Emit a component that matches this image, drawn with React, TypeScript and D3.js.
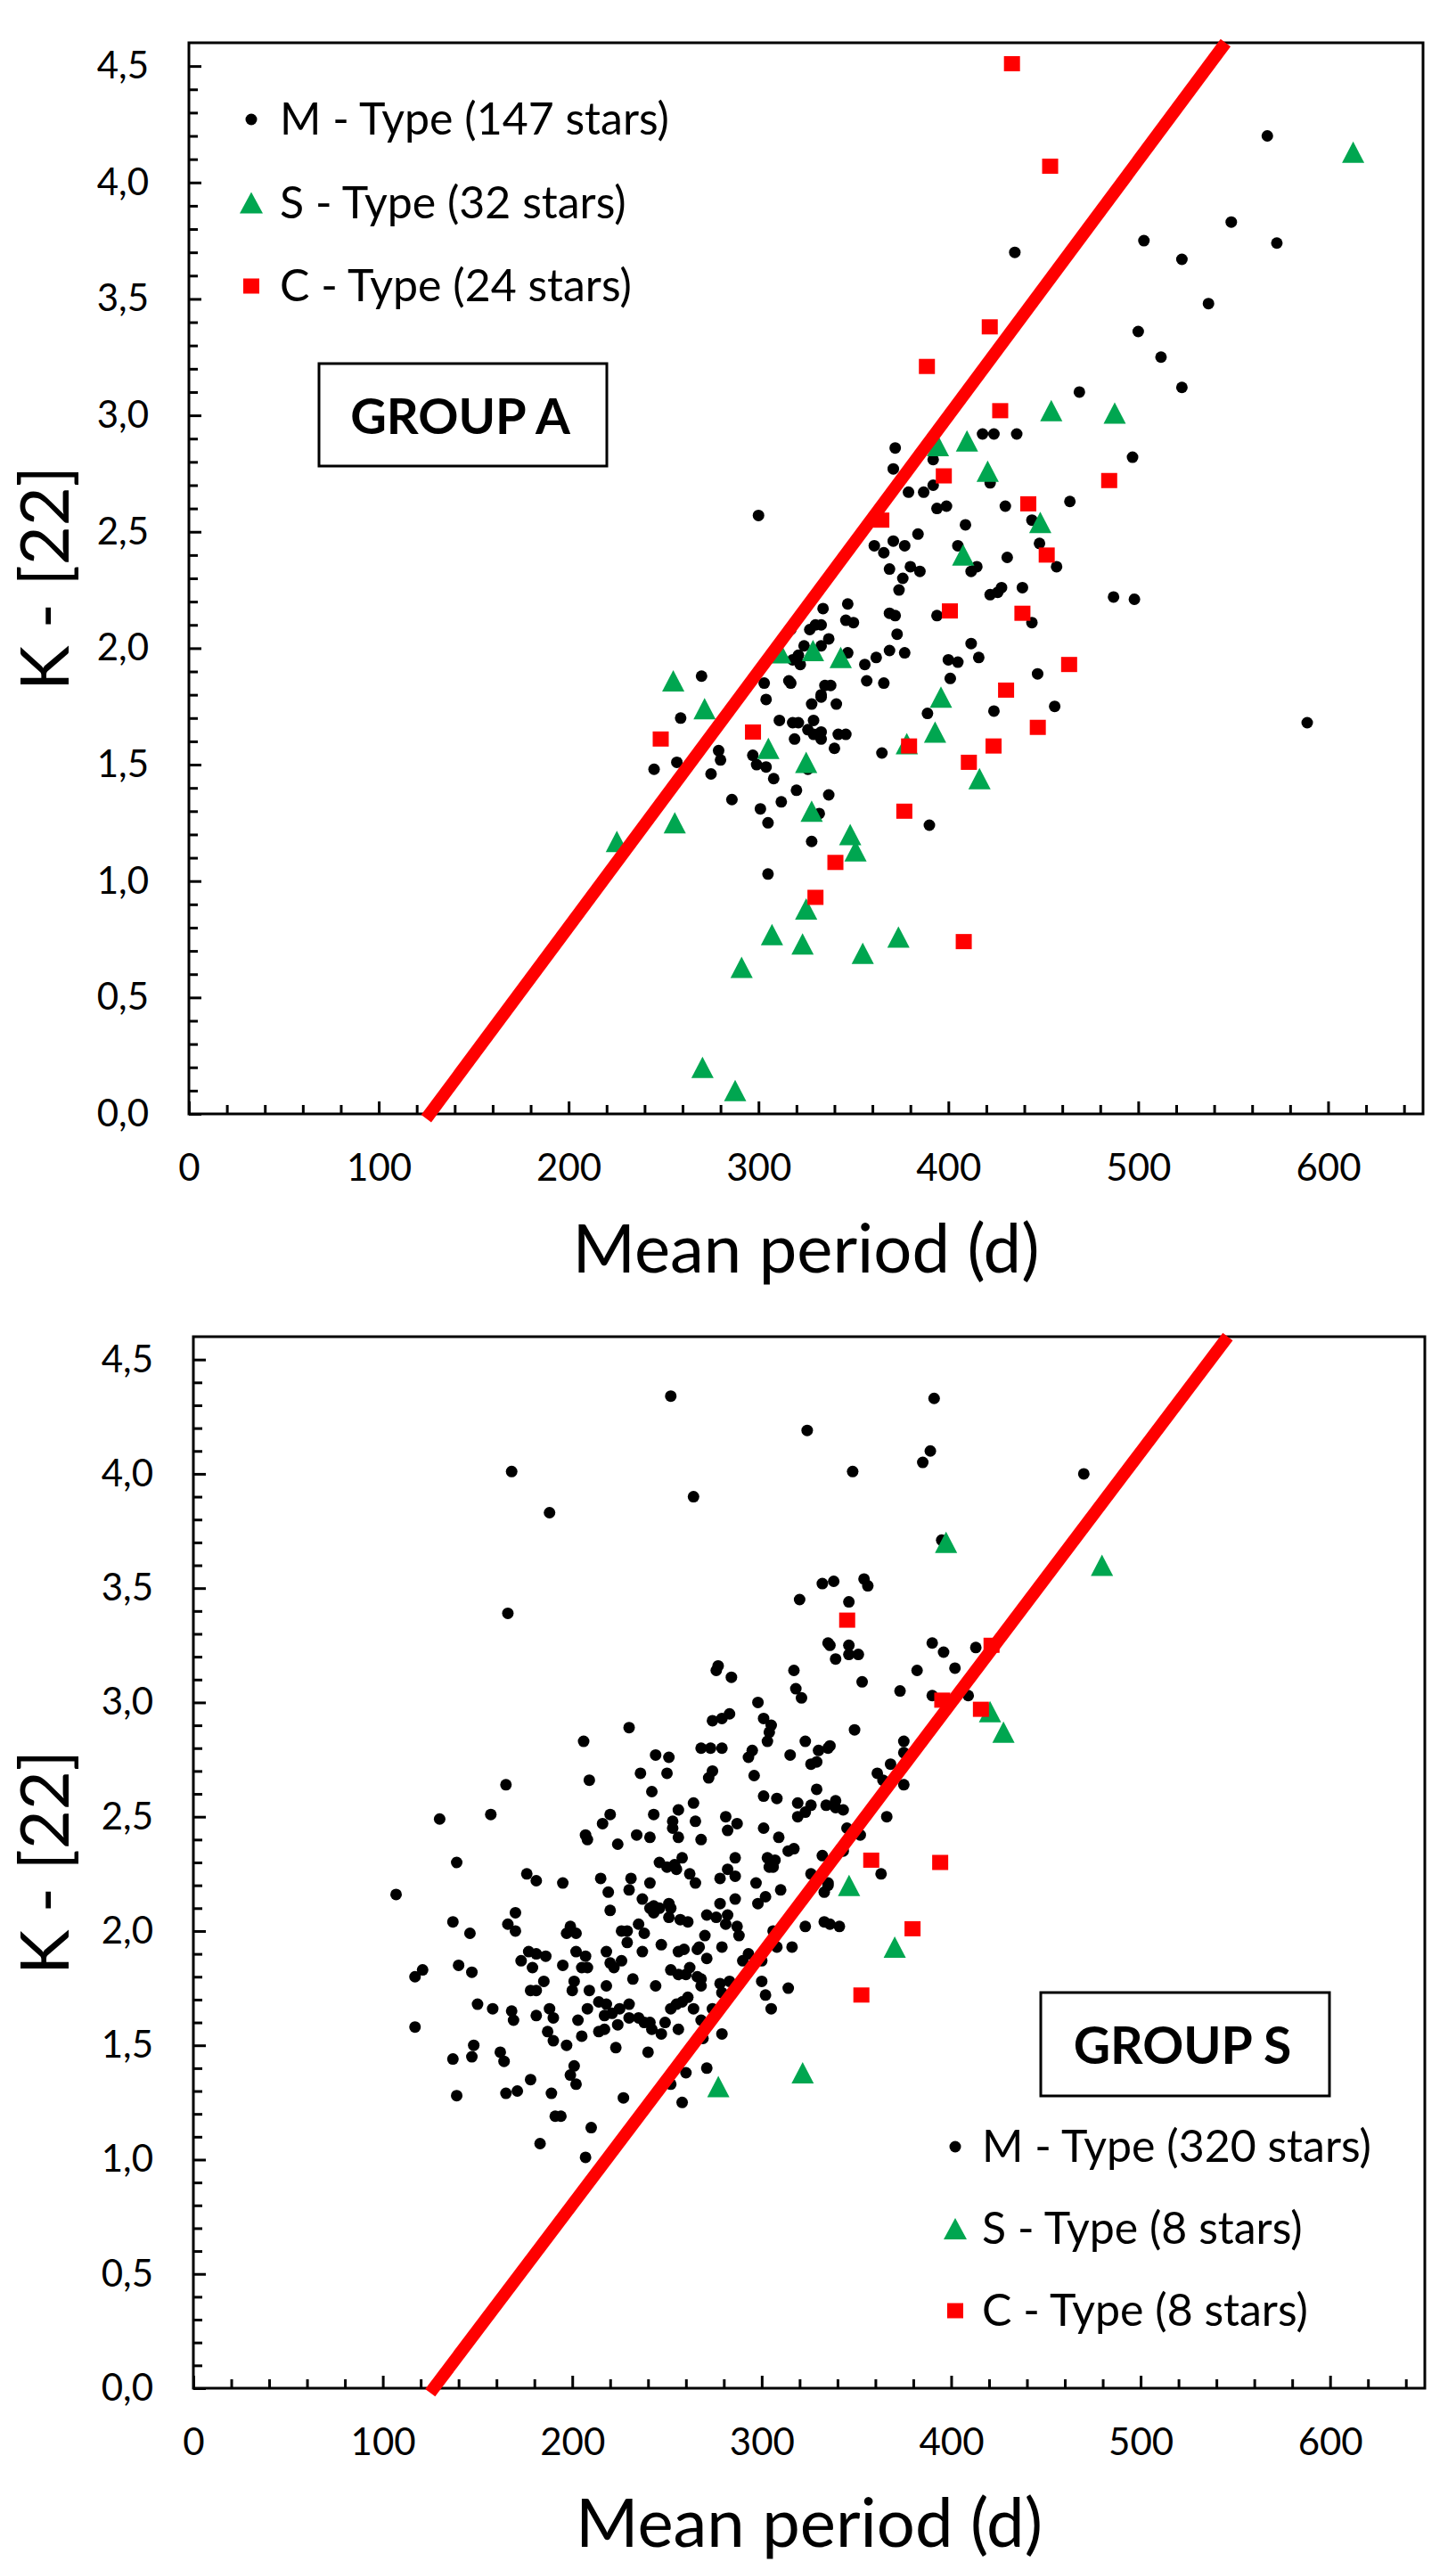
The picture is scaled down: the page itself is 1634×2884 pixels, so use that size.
import React, { useRef, useEffect } from 'react';
import * as d3 from 'd3';

type Pt = [number, number]; // [mean period (d), K - [22]]

const W = 1634;
const H = 2884;
const FONT = "Lato, 'Open Sans', sans-serif";

const xTickValues = [0, 100, 200, 300, 400, 500, 600];
const yTickValues = [0, 0.5, 1, 1.5, 2, 2.5, 3, 3.5, 4, 4.5];
const xTitle = 'Mean period (d)';
const yTitle = 'K - [22]';

// separation line, K - [22] = 0 at ~125 d, reaches the top of the frame at ~546 d
const limitLine: Pt[] = [[125, -0.02], [546, 4.6]];

// ---- GROUP A ----
const groupAM: Pt[] = [
  [300, 2.57], [372, 2.86], [371, 2.77], [392, 2.81], [379, 2.67], [387, 2.67], [392, 2.7], [394, 2.6],
  [399, 2.61], [409, 2.53], [384, 2.49], [361, 2.44], [366, 2.41], [371, 2.46], [377, 2.44], [405, 2.44],
  [369, 2.34], [380, 2.35], [385, 2.33], [376, 2.3], [374, 2.25], [412, 2.33], [415, 2.35], [422, 2.23],
  [426, 2.24], [369, 2.15], [372, 2.14], [394, 2.14], [373, 2.06], [369, 1.99], [377, 1.98], [362, 1.96],
  [356, 1.93], [357, 1.86], [366, 1.85], [347, 2.19], [346, 2.12], [350, 2.11], [334, 2.17], [330, 2.1],
  [333, 2.1], [327, 2.08], [337, 2.04], [324, 2.01], [333, 2.01], [317, 2.08], [321, 1.97], [318, 1.95],
  [322, 1.93], [347, 1.98], [303, 1.85], [316, 1.86], [317, 1.85], [304, 1.78], [335, 1.84], [338, 1.84],
  [333, 1.8], [333, 1.79], [328, 1.76], [341, 1.76], [311, 1.69], [318, 1.68], [321, 1.68], [329, 1.69],
  [326, 1.65], [331, 1.63], [333, 1.64], [329, 1.63], [319, 1.61], [333, 1.61], [342, 1.63], [346, 1.63],
  [340, 1.57], [279, 1.56], [280, 1.52], [297, 1.54], [299, 1.5], [304, 1.49], [308, 1.44], [326, 1.48],
  [275, 1.46], [286, 1.35], [301, 1.31], [305, 1.25], [312, 1.34], [320, 1.39], [337, 1.37], [332, 1.29],
  [328, 1.17], [305, 1.03], [365, 1.55], [390, 1.24], [389, 1.72], [401, 1.87], [400, 1.95], [405, 1.94],
  [412, 2.02], [416, 1.96], [424, 1.73], [270, 1.88], [259, 1.7], [257, 1.51], [245, 1.48], [418, 2.92],
  [424, 2.92], [422, 2.71], [568, 4.2], [435, 3.7], [549, 3.83], [573, 3.74], [503, 3.75], [523, 3.67],
  [537, 3.48], [500, 3.36], [512, 3.25], [523, 3.12], [469, 3.1], [436, 2.92], [497, 2.82], [430, 2.61],
  [464, 2.63], [444, 2.55], [448, 2.45], [431, 2.39], [457, 2.35], [428, 2.26], [439, 2.26], [487, 2.22],
  [498, 2.21], [444, 2.11], [447, 1.89], [456, 1.75], [589, 1.68]
];
const groupAS: Pt[] = [
  [394.5, 2.87], [409.8, 2.89], [420.7, 2.76], [407.8, 2.4], [255.1, 1.86], [271.6, 1.74], [311.5, 1.98],
  [328.7, 1.99], [343.3, 1.96], [305.2, 1.57], [325.1, 1.51], [396.1, 1.79], [393, 1.64], [378.1, 1.59],
  [416.4, 1.44], [255.9, 1.25], [225.4, 1.17], [328, 1.3], [348.3, 1.2], [351.1, 1.13], [325.1, 0.88],
  [307.1, 0.77], [323.2, 0.73], [291.1, 0.63], [373.7, 0.76], [354.9, 0.69], [270.5, 0.2], [287.7, 0.1],
  [613.2, 4.13], [454.2, 3.02], [487.6, 3.01], [448.4, 2.54]
];
const groupAC: Pt[] = [
  [388.7, 3.21], [397.6, 2.74], [364.7, 2.55], [400.8, 2.16], [248.5, 1.61], [297.1, 1.64], [379.3, 1.58],
  [376.8, 1.3], [340.5, 1.08], [330, 0.93], [408.1, 0.74], [433.5, 4.51], [453.6, 4.07], [421.8, 3.38],
  [427.3, 3.02], [484.7, 2.72], [442.1, 2.62], [451.8, 2.4], [439, 2.15], [463.6, 1.93], [430.4, 1.82],
  [447.1, 1.66], [423.8, 1.58], [410.8, 1.51]
];
const groupALegend = ['M - Type (147 stars)', 'S - Type (32 stars)', 'C - Type (24 stars)'];

// ---- GROUP S ----
const groupSM: Pt[] = [
  [252, 4.34], [324, 4.19], [168, 4.01], [188, 3.83], [264, 3.9], [166, 3.39], [332, 3.52], [320, 3.45],
  [335, 3.26], [277, 3.16], [276, 3.14], [284, 3.11], [317, 3.14], [318, 3.06], [321, 3.02], [298, 3.0],
  [301, 2.93], [305, 2.9], [304, 2.87], [303, 2.83], [274, 2.92], [279, 2.93], [283, 2.95], [230, 2.89],
  [206, 2.83], [268, 2.8], [273, 2.8], [279, 2.8], [295, 2.79], [293, 2.76], [323, 2.83], [315, 2.77],
  [330, 2.79], [335, 2.8], [326, 2.73], [329, 2.74], [244, 2.77], [251, 2.76], [236, 2.69], [250, 2.69],
  [274, 2.7], [272, 2.67], [296, 2.68], [209, 2.66], [165, 2.64], [329, 2.62], [242, 2.61], [301, 2.59],
  [308, 2.58], [319, 2.56], [326, 2.55], [323, 2.52], [319, 2.5], [334, 2.55], [256, 2.53], [264, 2.56],
  [243, 2.51], [281, 2.5], [287, 2.47], [282, 2.44], [157, 2.51], [130, 2.49], [220, 2.51], [216, 2.47],
  [253, 2.48], [253, 2.45], [265, 2.48], [256, 2.41], [268, 2.4], [301, 2.45], [309, 2.41], [207, 2.42],
  [208, 2.4], [234, 2.42], [241, 2.41], [224, 2.38], [314, 2.35], [317, 2.36], [303, 2.32], [307, 2.31],
  [304, 2.28], [306, 2.28], [286, 2.32], [332, 2.33], [258, 2.32], [246, 2.3], [250, 2.28], [254, 2.29],
  [255, 2.27], [139, 2.3], [282, 2.27], [278, 2.23], [286, 2.24], [262, 2.25], [265, 2.21], [326, 2.25],
  [176, 2.25], [181, 2.22], [195, 2.21], [215, 2.23], [231, 2.23], [230, 2.18], [241, 2.21], [107, 2.16],
  [297, 2.21], [310, 2.18], [335, 2.21], [333, 2.17], [219, 2.17], [237, 2.14], [241, 2.1], [243, 2.08],
  [246, 2.1], [251, 2.12], [252, 2.1], [243, 2.11], [251, 2.06], [286, 2.14], [278, 2.12], [298, 2.12],
  [302, 2.15], [220, 2.09], [170, 2.08], [137, 2.04], [146, 1.99], [166, 2.03], [170, 2.0], [271, 2.07],
  [276, 2.06], [282, 2.07], [281, 2.03], [257, 2.05], [261, 2.04], [287, 2.02], [288, 1.98], [270, 1.98],
  [267, 1.93], [266, 1.92], [199, 2.02], [197, 1.99], [202, 1.99], [226, 2.0], [229, 2.0], [229, 1.95],
  [235, 2.03], [238, 1.99], [323, 2.02], [333, 2.04], [306, 2.0], [177, 1.91], [181, 1.9], [186, 1.89],
  [173, 1.87], [179, 1.84], [202, 1.91], [207, 1.89], [208, 1.84], [205, 1.84], [218, 1.91], [220, 1.86],
  [222, 1.84], [226, 1.87], [237, 1.91], [247, 1.94], [256, 1.91], [259, 1.92], [271, 1.88], [279, 1.93],
  [308, 1.93], [316, 1.93], [293, 1.9], [290, 1.87], [300, 1.87], [117, 1.8], [121, 1.83], [140, 1.85],
  [147, 1.82], [195, 1.85], [252, 1.83], [256, 1.81], [260, 1.81], [262, 1.84], [266, 1.8], [268, 1.76],
  [268, 1.79], [232, 1.79], [185, 1.78], [244, 1.76], [278, 1.77], [283, 1.78], [279, 1.73], [300, 1.78],
  [302, 1.72], [305, 1.66], [314, 1.75], [218, 1.76], [201, 1.78], [200, 1.74], [178, 1.74], [181, 1.74],
  [209, 1.74], [150, 1.68], [158, 1.66], [168, 1.65], [169, 1.61], [181, 1.63], [188, 1.66], [190, 1.62],
  [208, 1.66], [214, 1.69], [218, 1.68], [221, 1.64], [217, 1.63], [225, 1.66], [230, 1.68], [261, 1.71],
  [258, 1.69], [255, 1.68], [252, 1.66], [264, 1.66], [274, 1.66], [230, 1.62], [235, 1.62], [238, 1.6],
  [241, 1.6], [242, 1.57], [249, 1.6], [203, 1.61], [268, 1.61], [117, 1.58], [187, 1.56], [214, 1.56],
  [217, 1.57], [205, 1.54], [224, 1.59], [247, 1.55], [256, 1.57], [190, 1.52], [197, 1.5], [223, 1.49],
  [240, 1.47], [148, 1.5], [147, 1.45], [137, 1.44], [162, 1.47], [164, 1.43], [269, 1.53], [279, 1.55],
  [201, 1.41], [199, 1.37], [202, 1.33], [178, 1.35], [260, 1.38], [271, 1.4], [139, 1.28], [165, 1.29],
  [171, 1.3], [189, 1.29], [252, 1.33], [227, 1.27], [258, 1.25], [191, 1.19], [194, 1.19], [210, 1.14],
  [183, 1.07], [207, 1.01],
  [391, 4.33], [348, 4.01], [389, 4.1], [385, 4.05], [470, 4.0], [395, 3.71], [338, 3.53], [354, 3.54],
  [356, 3.51], [346, 3.44], [336, 3.25], [346, 3.25], [339, 3.19], [346, 3.21], [351, 3.21], [353, 3.09],
  [390, 3.26], [396, 3.22], [413, 3.24], [382, 3.14], [402, 3.15], [373, 3.05], [390, 3.03], [409, 3.03],
  [349, 2.88], [336, 2.81], [375, 2.83], [375, 2.78], [368, 2.73], [361, 2.69], [364, 2.66], [375, 2.64],
  [339, 2.57], [339, 2.54], [343, 2.53], [366, 2.5], [345, 2.45], [352, 2.42], [349, 2.43], [343, 2.35],
  [363, 2.25], [335, 2.2], [336, 2.03], [341, 2.02]
];
const groupSS: Pt[] = [
  [397.3, 3.7], [479.6, 3.6], [420.5, 2.96], [427.6, 2.87], [346.1, 2.2], [370.2, 1.93], [277.1, 1.32], [321.6, 1.38]
];
const groupSC: Pt[] = [
  [345.1, 3.36], [421.3, 3.25], [395.3, 3.01], [415.7, 2.97], [357.8, 2.31], [394.2, 2.3], [379.6, 2.01], [352.6, 1.72]
];
const groupSLegend = ['M - Type (320 stars)', 'S - Type (8 stars)', 'C - Type (8 stars)'];

interface Panel {
  frame: { left: number; top: number; right: number; bottom: number };
  m: Pt[];
  s: Pt[];
  c: Pt[];
  legend: string[];
  legendAt: { markerX: number; textX: number; baseline: number; step: number };
  label: string;
  labelBox: { x: number; y: number; w: number; h: number; size: number; baseline: number };
}

const panels: Panel[] = [
  {
    frame: { left: 212, top: 48, right: 1597, bottom: 1250 },
    m: groupAM, s: groupAS, c: groupAC,
    legend: groupALegend,
    legendAt: { markerX: 282, textX: 314, baseline: 151, step: 93.5 },
    label: 'GROUP A',
    labelBox: { x: 358, y: 408, w: 323, h: 115, size: 56, baseline: 487 }
  },
  {
    frame: { left: 217, top: 1500, right: 1599, bottom: 2680 },
    m: groupSM, s: groupSS, c: groupSC,
    legend: groupSLegend,
    legendAt: { markerX: 1072, textX: 1102, baseline: 2426, step: 92 },
    label: 'GROUP S',
    labelBox: { x: 1168, y: 2236, w: 324, h: 116, size: 57, baseline: 2316 }
  }
];

const GREEN = '#00A650';
const RED = '#FF0000';
const tri = (w: number, h: number) => `M0,${-h / 2}L${w / 2},${h / 2}L${-w / 2},${h / 2}Z`;
const commaFmt = (v: number) => d3.format('.1f')(v).replace('.', ',');

function drawPanel(svg: d3.Selection<SVGSVGElement, unknown, null, undefined>, p: Panel) {
  const { left, top, right, bottom } = p.frame;
  const x = d3.scaleLinear().domain([0, 650]).range([left, right]);
  const y = d3.scaleLinear().domain([0, 4.6]).range([bottom, top]);
  const g = svg.append('g');

  const styleAxis = (a: d3.Selection<SVGGElement, unknown, null, undefined>) => {
    a.select('.domain').remove();
    a.selectAll('line').attr('stroke', '#000').attr('stroke-width', 3);
    a.attr('font-family', FONT).attr('font-size', 42);
    a.selectAll('text').attr('fill', '#000');
  };

  // x ticks: minor every 20, major every 100 (pointing inwards)
  g.append('g')
    .attr('transform', `translate(0,${bottom})`)
    .call(d3.axisBottom(x).tickValues(d3.range(20, 650, 20).filter(v => v % 100 !== 0)).tickSize(-10).tickFormat(() => ''))
    .call(styleAxis);
  g.append('g')
    .attr('transform', `translate(0,${bottom})`)
    .call(d3.axisBottom(x).tickValues(xTickValues).tickSize(-14).tickPadding(45).tickFormat(d3.format('d')))
    .call(styleAxis);

  // y ticks: minor every 0.1, major every 0.5
  const yMinor = d3.range(1, 46).map(v => v / 10).filter(v => Math.round(v * 10) % 5 !== 0);
  g.append('g')
    .attr('transform', `translate(${left},0)`)
    .call(d3.axisLeft(y).tickValues(yMinor).tickSize(-10).tickFormat(() => ''))
    .call(styleAxis);
  g.append('g')
    .attr('transform', `translate(${left},0)`)
    .call(d3.axisLeft(y).tickValues(yTickValues).tickSize(-14).tickPadding(45).tickFormat(d => commaFmt(+d)))
    .call(styleAxis);

  // frame
  g.append('rect')
    .attr('x', left).attr('y', top)
    .attr('width', right - left).attr('height', bottom - top)
    .attr('fill', 'none').attr('stroke', '#000').attr('stroke-width', 3);

  // axis titles
  g.append('text')
    .attr('x', (left + right) / 2).attr('y', bottom + 178)
    .attr('text-anchor', 'middle')
    .attr('font-family', FONT).attr('font-size', 76)
    .text(xTitle);
  g.append('text')
    .attr('transform', `translate(77,${(top + bottom) / 2}) rotate(-90)`)
    .attr('text-anchor', 'middle')
    .attr('font-family', FONT).attr('font-size', 76)
    .text(yTitle);

  // markers
  g.append('g').selectAll('circle').data(p.m).join('circle')
    .attr('cx', d => x(d[0])).attr('cy', d => y(d[1])).attr('r', 6.5).attr('fill', '#000');
  g.append('g').selectAll('path').data(p.s).join('path')
    .attr('transform', d => `translate(${x(d[0])},${y(d[1])})`)
    .attr('d', tri(25, 24)).attr('fill', GREEN);
  g.append('g').selectAll('rect').data(p.c).join('rect')
    .attr('x', d => x(d[0]) - 9).attr('y', d => y(d[1]) - 8.5)
    .attr('width', 18).attr('height', 17).attr('fill', RED);

  // separation line
  g.append('path')
    .datum(limitLine)
    .attr('fill', 'none').attr('stroke', RED).attr('stroke-width', 14)
    .attr('d', d3.line<Pt>().x(d => x(d[0])).y(d => y(d[1])));

  // legend
  const la = p.legendAt;
  p.legend.forEach((label, i) => {
    const by = la.baseline + i * la.step;
    const cy = by - 17;
    if (i === 0) g.append('circle').attr('cx', la.markerX).attr('cy', cy).attr('r', 6.5).attr('fill', '#000');
    if (i === 1) g.append('path').attr('transform', `translate(${la.markerX},${cy})`).attr('d', tri(26, 24)).attr('fill', GREEN);
    if (i === 2) g.append('rect').attr('x', la.markerX - 9).attr('y', cy - 8.5).attr('width', 18).attr('height', 17).attr('fill', RED);
    g.append('text')
      .attr('x', la.textX).attr('y', by)
      .attr('font-family', FONT).attr('font-size', 50)
      .text(label);
  });

  // group label box
  const lb = p.labelBox;
  g.append('rect')
    .attr('x', lb.x).attr('y', lb.y).attr('width', lb.w).attr('height', lb.h)
    .attr('fill', '#fff').attr('stroke', '#000').attr('stroke-width', 3);
  g.append('text')
    .attr('x', lb.x + lb.w / 2 - 3).attr('y', lb.baseline)
    .attr('text-anchor', 'middle')
    .attr('font-family', FONT).attr('font-size', lb.size).attr('font-weight', 700)
    .text(p.label);
}

const App: React.FC = () => {
  const ref = useRef<SVGSVGElement | null>(null);

  useEffect(() => {
    if (!ref.current) return;
    const svg = d3.select(ref.current);
    svg.selectAll('*').remove();
    svg.append('rect').attr('width', W).attr('height', H).attr('fill', '#fff');
    panels.forEach(p => drawPanel(svg, p));
  }, []);

  return (
    <svg
      ref={ref}
      width={W}
      height={H}
      viewBox={`0 0 ${W} ${H}`}
      style={{ position: 'absolute', left: 0, top: 0, display: 'block' }}
    />
  );
};

export default App;
